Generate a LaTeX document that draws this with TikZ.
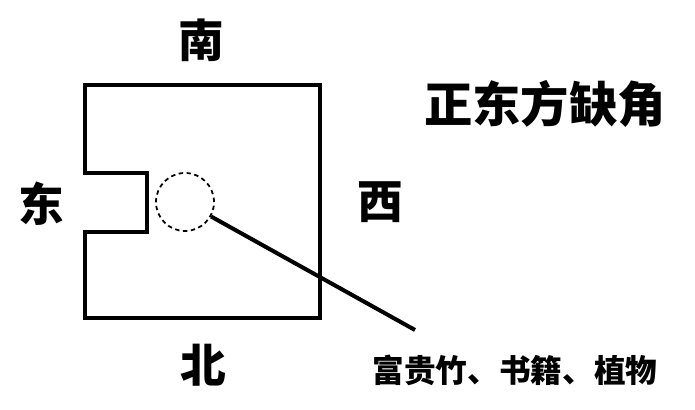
\documentclass[tikz,border=0pt]{standalone}
\usepackage{fontspec}
\newfontfamily\cjk{Noto Sans CJK SC}
\usetikzlibrary{positioning}

\tikzset{
  dirlabel/.style={font=\cjk\bfseries\fontsize{26}{26}\selectfont, inner sep=0pt},
  titlelabel/.style={font=\cjk\bfseries\fontsize{27.5}{27.5}\selectfont, inner sep=0pt},
  notelabel/.style={font=\cjk\bfseries\fontsize{18}{18}\selectfont, inner sep=0pt}
}

\begin{document}
\begin{tikzpicture}[line width=2pt, black, line join=miter]
  \useasboundingbox (0,0) rectangle (13.9,8.2);
  % house outline with the notch on the east side
  \draw (1.7,6.5) -- (6.4,6.5) -- (6.4,1.84) -- (1.7,1.84) -- (1.7,3.56)
        -- (2.94,3.56) -- (2.94,4.74) -- (1.7,4.74) -- cycle;
  \node[circle, draw, line width=1pt, dash pattern=on 2.5pt off 2pt,
        minimum size=1.16cm, inner sep=0pt] (spot) at (3.7,4.16) {};
  \coordinate (tip) at (8.3,1.6);
  \draw[line width=2.3pt] (spot) -- (tip);
  \node[dirlabel] (south) at (4.02,7.4) {南};
  \node[dirlabel] (east) at (0.82,4.12) {东};
  \node[dirlabel] (west) at (7.6,4.16) {西};
  \node[dirlabel] (north) at (4.06,0.9) {北};
  \node[titlelabel] (title) at (10.9,6.12) {正东方缺角};
  \node[notelabel] (note) at (10.3,0.8) {富贵竹、书籍、植物};
\end{tikzpicture}
\end{document}
